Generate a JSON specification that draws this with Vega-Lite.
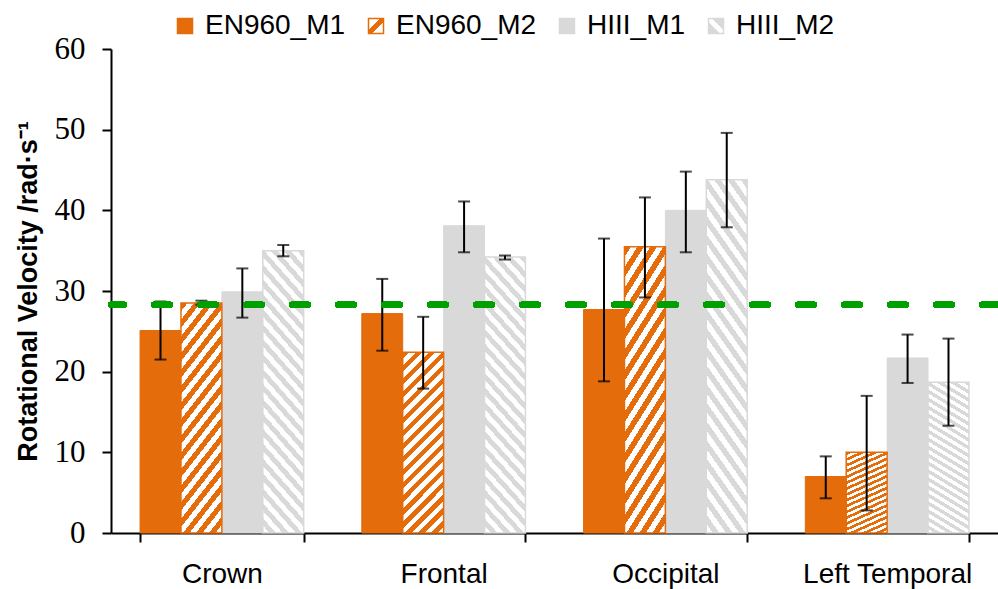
{
  "$schema": "https://vega.github.io/schema/vega-lite/v6.json",
  "width": 887,
  "height": 484,
  "autosize": {"type": "none"},
  "padding": {"left": 111, "top": 49, "right": 0, "bottom": 56},
  "background": "white",
  "config": {"view": {"stroke": null}, "font": "Liberation Sans"},
  "data": {
    "values": [
      {"region": "Crown", "series": "EN960_M1", "value": 25.1, "lo": 21.5, "hi": 28.7},
      {"region": "Crown", "series": "EN960_M2", "value": 28.5, "lo": 28.3, "hi": 28.8},
      {"region": "Crown", "series": "HIII_M1", "value": 29.9, "lo": 26.7, "hi": 32.8},
      {"region": "Crown", "series": "HIII_M2", "value": 35.0, "lo": 34.3, "hi": 35.7},
      {"region": "Frontal", "series": "EN960_M1", "value": 27.2, "lo": 22.6, "hi": 31.5},
      {"region": "Frontal", "series": "EN960_M2", "value": 22.4, "lo": 17.9, "hi": 26.8},
      {"region": "Frontal", "series": "HIII_M1", "value": 38.1, "lo": 34.8, "hi": 41.1},
      {"region": "Frontal", "series": "HIII_M2", "value": 34.2, "lo": 33.9, "hi": 34.4},
      {"region": "Occipital", "series": "EN960_M1", "value": 27.7, "lo": 18.8, "hi": 36.5},
      {"region": "Occipital", "series": "EN960_M2", "value": 35.5, "lo": 29.2, "hi": 41.6},
      {"region": "Occipital", "series": "HIII_M1", "value": 40.0, "lo": 34.8, "hi": 44.8},
      {"region": "Occipital", "series": "HIII_M2", "value": 43.8, "lo": 37.9, "hi": 49.6},
      {"region": "Left Temporal", "series": "EN960_M1", "value": 7.0, "lo": 4.3, "hi": 9.5},
      {"region": "Left Temporal", "series": "EN960_M2", "value": 10.0, "lo": 2.8, "hi": 17.0},
      {"region": "Left Temporal", "series": "HIII_M1", "value": 21.7, "lo": 18.6, "hi": 24.6},
      {"region": "Left Temporal", "series": "HIII_M2", "value": 18.7, "lo": 13.3, "hi": 24.1}
    ]
  },
  "layer": [
    {
      "encoding": {
        "x": {
          "field": "region", "type": "nominal",
          "sort": ["Crown", "Frontal", "Occipital", "Left Temporal"],
          "scale": {"paddingInner": 0.262, "paddingOuter": 0.131},
          "axis": {
            "title": null, "labelAngle": 0, "labelFontSize": 28, "labelFont": "Liberation Sans",
            "labelColor": "black", "tickBand": "extent", "tickSize": 9, "tickWidth": 2,
            "tickColor": "black", "domainColor": "black", "domainWidth": 2, "labelPadding": 18
          }
        },
        "xOffset": {
          "field": "series", "type": "nominal",
          "scale": {"domain": ["EN960_M1", "EN960_M2", "HIII_M1", "HIII_M2"], "paddingInner": 0, "paddingOuter": 0}
        }
      },
      "layer": [
        {
          "transform": [{"filter": "datum.series === 'EN960_M1' || datum.series === 'HIII_M1'"}],
          "mark": {"type": "bar", "strokeWidth": 1},
          "encoding": {
            "y": {
              "field": "value", "type": "quantitative",
              "scale": {"domain": [0, 60], "nice": false},
              "axis": {
                "values": [0, 10, 20, 30, 40, 50, 60], "grid": false,
                "title": "Rotational Velocity /rad·s⁻¹", "titleFont": "Liberation Sans",
                "titleFontSize": 27, "titleFontWeight": "bold", "titleColor": "black", "titlePadding": 12,
                "labelFont": "Liberation Serif", "labelFontSize": 31, "labelColor": "black", "labelPadding": 17,
                "tickSize": 9, "tickWidth": 2, "tickColor": "black", "domainColor": "black", "domainWidth": 2
              }
            },
            "color": {
              "field": "series", "type": "nominal",
              "scale": {"range": ["#E46C0A", "#D9D9D9"]},
              "legend": null
            },
            "stroke": {
              "field": "series", "type": "nominal",
              "scale": {"domain": ["EN960_M1", "EN960_M2", "HIII_M1", "HIII_M2"], "range": ["#E46C0A", "#E46C0A", "#D9D9D9", "#D9D9D9"]},
              "legend": {
                "orient": "none", "legendX": 60, "legendY": -37, "direction": "horizontal",
                "title": null, "symbolType": "square", "symbolSize": 225, "symbolStrokeWidth": 1.5,
                "labelFontSize": 28, "labelFont": "Liberation Sans", "labelColor": "black",
                "labelOffset": 6, "columnPadding": 16, "padding": 0,
                "symbolFillColor": {"expr": "datum.value === 'EN960_M2' ? {gradient: 'linear', x1: 0, y1: 0, x2: 1, y2: 1, stops: [{offset: 0, color: '#FFFFFF'}, {offset: 0.38, color: '#FFFFFF'}, {offset: 0.38, color: '#E46C0A'}, {offset: 0.62, color: '#E46C0A'}, {offset: 0.62, color: '#FFFFFF'}, {offset: 1, color: '#FFFFFF'}]} : datum.value === 'HIII_M2' ? {gradient: 'linear', x1: 1, y1: 0, x2: 0, y2: 1, stops: [{offset: 0, color: '#D9D9D9'}, {offset: 0.38, color: '#D9D9D9'}, {offset: 0.38, color: '#FFFFFF'}, {offset: 0.62, color: '#FFFFFF'}, {offset: 0.62, color: '#D9D9D9'}, {offset: 1, color: '#D9D9D9'}]} : datum.value === 'HIII_M1' ? '#D9D9D9' : '#E46C0A'"}
              }
            }
          }
        },
        {
          "transform": [{"filter": "datum.series === 'EN960_M2'"}],
          "mark": {
            "type": "bar", "stroke": "#E46C0A", "strokeWidth": 1.5,
            "fill": {
              "gradient": "linear", "x1": 0, "y1": 0, "x2": 0.26516, "y2": 1.16698,
              "stops": [
                {"offset": 0, "color": "#E46C0A"}, {"offset": 0.02941, "color": "#E46C0A"}, {"offset": 0.02941, "color": "#FFFFFF"}, {"offset": 0.05882, "color": "#FFFFFF"},
                {"offset": 0.05882, "color": "#E46C0A"}, {"offset": 0.08824, "color": "#E46C0A"}, {"offset": 0.08824, "color": "#FFFFFF"}, {"offset": 0.11765, "color": "#FFFFFF"},
                {"offset": 0.11765, "color": "#E46C0A"}, {"offset": 0.14706, "color": "#E46C0A"}, {"offset": 0.14706, "color": "#FFFFFF"}, {"offset": 0.17647, "color": "#FFFFFF"},
                {"offset": 0.17647, "color": "#E46C0A"}, {"offset": 0.20588, "color": "#E46C0A"}, {"offset": 0.20588, "color": "#FFFFFF"}, {"offset": 0.23529, "color": "#FFFFFF"},
                {"offset": 0.23529, "color": "#E46C0A"}, {"offset": 0.26471, "color": "#E46C0A"}, {"offset": 0.26471, "color": "#FFFFFF"}, {"offset": 0.29412, "color": "#FFFFFF"},
                {"offset": 0.29412, "color": "#E46C0A"}, {"offset": 0.32353, "color": "#E46C0A"}, {"offset": 0.32353, "color": "#FFFFFF"}, {"offset": 0.35294, "color": "#FFFFFF"},
                {"offset": 0.35294, "color": "#E46C0A"}, {"offset": 0.38235, "color": "#E46C0A"}, {"offset": 0.38235, "color": "#FFFFFF"}, {"offset": 0.41176, "color": "#FFFFFF"},
                {"offset": 0.41176, "color": "#E46C0A"}, {"offset": 0.44118, "color": "#E46C0A"}, {"offset": 0.44118, "color": "#FFFFFF"}, {"offset": 0.47059, "color": "#FFFFFF"},
                {"offset": 0.47059, "color": "#E46C0A"}, {"offset": 0.5, "color": "#E46C0A"}, {"offset": 0.5, "color": "#FFFFFF"}, {"offset": 0.52941, "color": "#FFFFFF"},
                {"offset": 0.52941, "color": "#E46C0A"}, {"offset": 0.55882, "color": "#E46C0A"}, {"offset": 0.55882, "color": "#FFFFFF"}, {"offset": 0.58824, "color": "#FFFFFF"},
                {"offset": 0.58824, "color": "#E46C0A"}, {"offset": 0.61765, "color": "#E46C0A"}, {"offset": 0.61765, "color": "#FFFFFF"}, {"offset": 0.64706, "color": "#FFFFFF"},
                {"offset": 0.64706, "color": "#E46C0A"}, {"offset": 0.67647, "color": "#E46C0A"}, {"offset": 0.67647, "color": "#FFFFFF"}, {"offset": 0.70588, "color": "#FFFFFF"},
                {"offset": 0.70588, "color": "#E46C0A"}, {"offset": 0.73529, "color": "#E46C0A"}, {"offset": 0.73529, "color": "#FFFFFF"}, {"offset": 0.76471, "color": "#FFFFFF"},
                {"offset": 0.76471, "color": "#E46C0A"}, {"offset": 0.79412, "color": "#E46C0A"}, {"offset": 0.79412, "color": "#FFFFFF"}, {"offset": 0.82353, "color": "#FFFFFF"},
                {"offset": 0.82353, "color": "#E46C0A"}, {"offset": 0.85294, "color": "#E46C0A"}, {"offset": 0.85294, "color": "#FFFFFF"}, {"offset": 0.88235, "color": "#FFFFFF"},
                {"offset": 0.88235, "color": "#E46C0A"}, {"offset": 0.91176, "color": "#E46C0A"}, {"offset": 0.91176, "color": "#FFFFFF"}, {"offset": 0.94118, "color": "#FFFFFF"},
                {"offset": 0.94118, "color": "#E46C0A"}, {"offset": 0.97059, "color": "#E46C0A"}, {"offset": 0.97059, "color": "#FFFFFF"}, {"offset": 1, "color": "#FFFFFF"}
              ]
            }
          },
          "encoding": {"y": {"field": "value", "type": "quantitative"}}
        },
        {
          "transform": [{"filter": "datum.series === 'HIII_M2'"}],
          "mark": {
            "type": "bar", "stroke": "#D9D9D9", "strokeWidth": 1.5,
            "fill": {
              "gradient": "linear", "x1": 1, "y1": 0, "x2": 0.8146, "y2": 1.13328,
              "stops": [
                {"offset": 0, "color": "#D9D9D9"}, {"offset": 0.02273, "color": "#D9D9D9"}, {"offset": 0.02273, "color": "#FFFFFF"}, {"offset": 0.04545, "color": "#FFFFFF"},
                {"offset": 0.04545, "color": "#D9D9D9"}, {"offset": 0.06818, "color": "#D9D9D9"}, {"offset": 0.06818, "color": "#FFFFFF"}, {"offset": 0.09091, "color": "#FFFFFF"},
                {"offset": 0.09091, "color": "#D9D9D9"}, {"offset": 0.11364, "color": "#D9D9D9"}, {"offset": 0.11364, "color": "#FFFFFF"}, {"offset": 0.13636, "color": "#FFFFFF"},
                {"offset": 0.13636, "color": "#D9D9D9"}, {"offset": 0.15909, "color": "#D9D9D9"}, {"offset": 0.15909, "color": "#FFFFFF"}, {"offset": 0.18182, "color": "#FFFFFF"},
                {"offset": 0.18182, "color": "#D9D9D9"}, {"offset": 0.20455, "color": "#D9D9D9"}, {"offset": 0.20455, "color": "#FFFFFF"}, {"offset": 0.22727, "color": "#FFFFFF"},
                {"offset": 0.22727, "color": "#D9D9D9"}, {"offset": 0.25, "color": "#D9D9D9"}, {"offset": 0.25, "color": "#FFFFFF"}, {"offset": 0.27273, "color": "#FFFFFF"},
                {"offset": 0.27273, "color": "#D9D9D9"}, {"offset": 0.29545, "color": "#D9D9D9"}, {"offset": 0.29545, "color": "#FFFFFF"}, {"offset": 0.31818, "color": "#FFFFFF"},
                {"offset": 0.31818, "color": "#D9D9D9"}, {"offset": 0.34091, "color": "#D9D9D9"}, {"offset": 0.34091, "color": "#FFFFFF"}, {"offset": 0.36364, "color": "#FFFFFF"},
                {"offset": 0.36364, "color": "#D9D9D9"}, {"offset": 0.38636, "color": "#D9D9D9"}, {"offset": 0.38636, "color": "#FFFFFF"}, {"offset": 0.40909, "color": "#FFFFFF"},
                {"offset": 0.40909, "color": "#D9D9D9"}, {"offset": 0.43182, "color": "#D9D9D9"}, {"offset": 0.43182, "color": "#FFFFFF"}, {"offset": 0.45455, "color": "#FFFFFF"},
                {"offset": 0.45455, "color": "#D9D9D9"}, {"offset": 0.47727, "color": "#D9D9D9"}, {"offset": 0.47727, "color": "#FFFFFF"}, {"offset": 0.5, "color": "#FFFFFF"},
                {"offset": 0.5, "color": "#D9D9D9"}, {"offset": 0.52273, "color": "#D9D9D9"}, {"offset": 0.52273, "color": "#FFFFFF"}, {"offset": 0.54545, "color": "#FFFFFF"},
                {"offset": 0.54545, "color": "#D9D9D9"}, {"offset": 0.56818, "color": "#D9D9D9"}, {"offset": 0.56818, "color": "#FFFFFF"}, {"offset": 0.59091, "color": "#FFFFFF"},
                {"offset": 0.59091, "color": "#D9D9D9"}, {"offset": 0.61364, "color": "#D9D9D9"}, {"offset": 0.61364, "color": "#FFFFFF"}, {"offset": 0.63636, "color": "#FFFFFF"},
                {"offset": 0.63636, "color": "#D9D9D9"}, {"offset": 0.65909, "color": "#D9D9D9"}, {"offset": 0.65909, "color": "#FFFFFF"}, {"offset": 0.68182, "color": "#FFFFFF"},
                {"offset": 0.68182, "color": "#D9D9D9"}, {"offset": 0.70455, "color": "#D9D9D9"}, {"offset": 0.70455, "color": "#FFFFFF"}, {"offset": 0.72727, "color": "#FFFFFF"},
                {"offset": 0.72727, "color": "#D9D9D9"}, {"offset": 0.75, "color": "#D9D9D9"}, {"offset": 0.75, "color": "#FFFFFF"}, {"offset": 0.77273, "color": "#FFFFFF"},
                {"offset": 0.77273, "color": "#D9D9D9"}, {"offset": 0.79545, "color": "#D9D9D9"}, {"offset": 0.79545, "color": "#FFFFFF"}, {"offset": 0.81818, "color": "#FFFFFF"},
                {"offset": 0.81818, "color": "#D9D9D9"}, {"offset": 0.84091, "color": "#D9D9D9"}, {"offset": 0.84091, "color": "#FFFFFF"}, {"offset": 0.86364, "color": "#FFFFFF"},
                {"offset": 0.86364, "color": "#D9D9D9"}, {"offset": 0.88636, "color": "#D9D9D9"}, {"offset": 0.88636, "color": "#FFFFFF"}, {"offset": 0.90909, "color": "#FFFFFF"},
                {"offset": 0.90909, "color": "#D9D9D9"}, {"offset": 0.93182, "color": "#D9D9D9"}, {"offset": 0.93182, "color": "#FFFFFF"}, {"offset": 0.95455, "color": "#FFFFFF"},
                {"offset": 0.95455, "color": "#D9D9D9"}, {"offset": 0.97727, "color": "#D9D9D9"}, {"offset": 0.97727, "color": "#FFFFFF"}, {"offset": 1, "color": "#FFFFFF"}
              ]
            }
          },
          "encoding": {"y": {"field": "value", "type": "quantitative"}}
        },
        {
          "mark": {"type": "rule", "color": "black", "strokeWidth": 2},
          "encoding": {
            "y": {"field": "lo", "type": "quantitative"},
            "y2": {"field": "hi"}
          }
        },
        {
          "mark": {"type": "tick", "color": "black", "thickness": 2, "size": 12, "orient": "horizontal"},
          "encoding": {"y": {"field": "lo", "type": "quantitative"}}
        },
        {
          "mark": {"type": "tick", "color": "black", "thickness": 2, "size": 12, "orient": "horizontal"},
          "encoding": {"y": {"field": "hi", "type": "quantitative"}}
        }
      ]
    },
    {
      "mark": {"type": "rule", "color": "#00A000", "strokeWidth": 6, "strokeDash": [16, 30], "strokeCap": "round"},
      "encoding": {"y": {"datum": 28.3}}
    }
  ]
}
